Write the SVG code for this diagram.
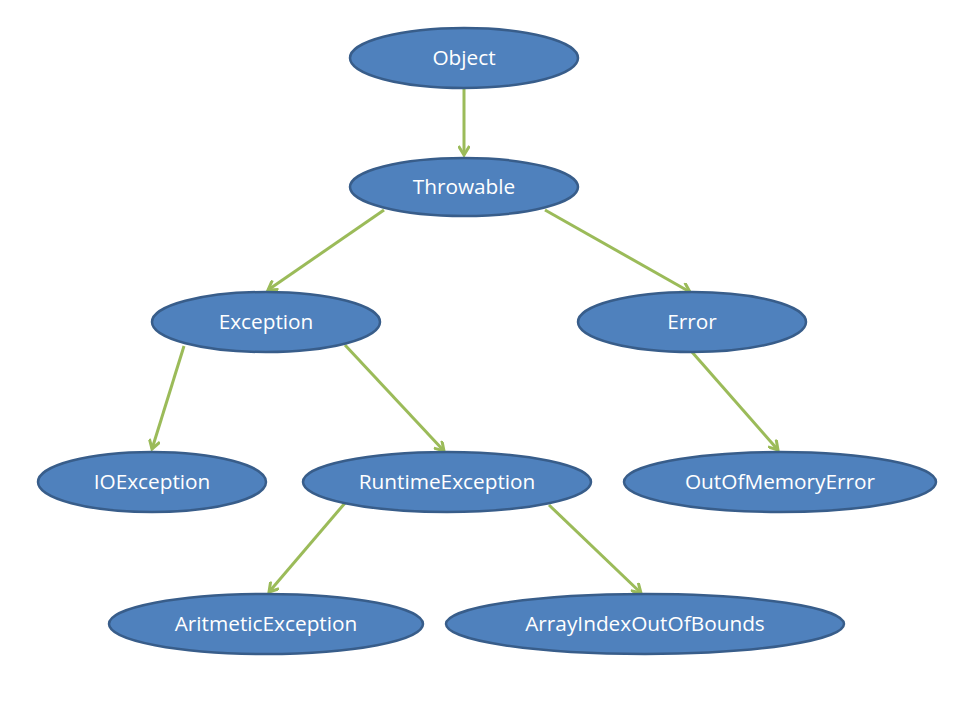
<svg xmlns="http://www.w3.org/2000/svg" width="960" height="720" viewBox="0 0 960 720">
<style>
.n{fill:#4F81BD;stroke:#385D8A;stroke-width:2.5}
.t{fill:#fff;font-family:"Open Sans","Liberation Sans",sans-serif;font-size:20.8px;text-anchor:middle;dominant-baseline:central}
.e{stroke:#9BBB59;stroke-width:3;fill:none;marker-end:url(#a)}
</style>
<defs>
<marker id="a" markerWidth="12" markerHeight="12" viewBox="-10 -6 12 12" refX="0" refY="0" orient="auto" markerUnits="userSpaceOnUse">
<path d="M-9,-5.5 L0,0 L-9,5.5" fill="none" stroke="#9BBB59" stroke-width="3" stroke-linejoin="miter"/>
</marker>
</defs>
<rect width="960" height="720" fill="#fff"/>
<g id="connectors">
<line class="e" x1="464" y1="89" x2="464" y2="155"/>
<line class="e" x1="384" y1="210" x2="268" y2="290"/>
<line class="e" x1="545" y1="210" x2="690" y2="292"/>
<line class="e" x1="184" y1="346" x2="152" y2="449"/>
<line class="e" x1="345" y1="345" x2="444" y2="451"/>
<line class="e" x1="692" y1="352" x2="778" y2="450"/>
<line class="e" x1="345" y1="503" x2="269" y2="592"/>
<line class="e" x1="549" y1="505" x2="641" y2="593"/>
</g>
<g id="object"><ellipse class="n" cx="464" cy="58" rx="114" ry="30"/><text class="t" x="464" y="57">Object</text></g>
<g id="throwable"><ellipse class="n" cx="464" cy="187" rx="114" ry="29"/><text class="t" x="464" y="186">Throwable</text></g>
<g id="exception"><ellipse class="n" cx="266" cy="322" rx="114" ry="30"/><text class="t" x="266" y="321">Exception</text></g>
<g id="error"><ellipse class="n" cx="692" cy="322" rx="114" ry="30"/><text class="t" x="692" y="321">Error</text></g>
<g id="ioexception"><ellipse class="n" cx="152" cy="482" rx="114" ry="30"/><text class="t" x="152" y="481">IOException</text></g>
<g id="runtimeexception"><ellipse class="n" cx="447" cy="482" rx="144" ry="30"/><text class="t" x="447" y="481">RuntimeException</text></g>
<g id="outofmemoryerror"><ellipse class="n" cx="780" cy="482" rx="156" ry="30"/><text class="t" x="780" y="481">OutOfMemoryError</text></g>
<g id="aritmeticexception"><ellipse class="n" cx="266" cy="624" rx="157" ry="30"/><text class="t" x="266" y="623">AritmeticException</text></g>
<g id="arrayindexoutofbounds"><ellipse class="n" cx="645" cy="624" rx="199" ry="30"/><text class="t" x="645" y="623">ArrayIndexOutOfBounds</text></g>
</svg>
